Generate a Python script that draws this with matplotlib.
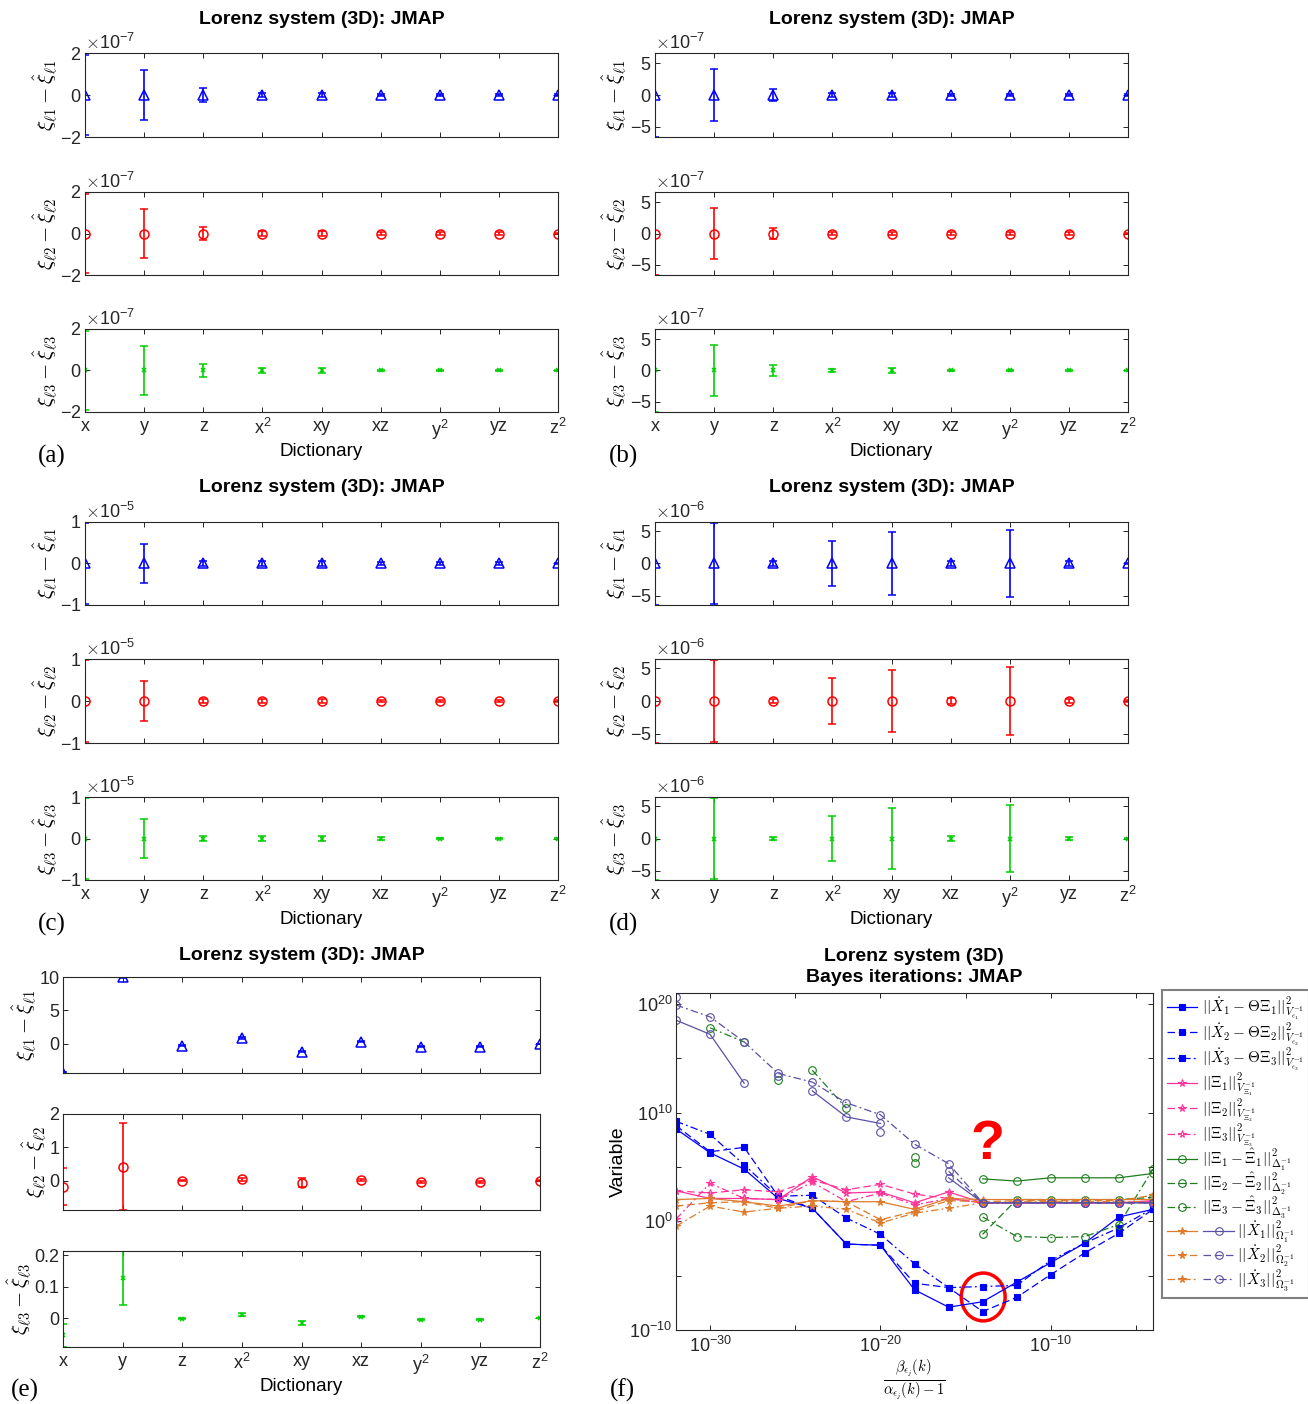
#!/usr/bin/env python3
"""Coefficient errors (panels a-e) and JMAP Bayes iterations (panel f) for the Lorenz system."""

import matplotlib
matplotlib.use("Agg")
import matplotlib.pyplot as plt
import numpy as np
from matplotlib.legend_handler import HandlerTuple
from matplotlib.patches import Ellipse
from matplotlib.ticker import FormatStrFormatter, NullLocator, ScalarFormatter

W, H = 1308, 1404

BLUE = "#0000FF"
RED = "#FF0000"
GREEN = "#00D000"
PINK = "#FF3399"
ORANGE = "#DE7B2C"
DKGREEN = "#1F7F1F"
PURPLE = "#5A50A6"
EDGE = "#262626"

plt.rcParams.update({
    "font.family": ["Liberation Sans", "DejaVu Sans"],
    "mathtext.fontset": "cm",
    "axes.unicode_minus": False,
    "axes.linewidth": 0.8,
    "axes.edgecolor": EDGE,
    "xtick.direction": "in",
    "ytick.direction": "in",
    "xtick.top": True,
    "ytick.right": True,
    "xtick.major.size": 3.5,
    "ytick.major.size": 3.5,
    "xtick.major.width": 0.7,
    "ytick.major.width": 0.7,
    "xtick.labelsize": 13,
    "ytick.labelsize": 13,
    "xtick.major.pad": 4,
    "ytick.major.pad": 2.5,
    "xtick.color": EDGE,
    "ytick.color": EDGE,
})

TERMS = ["x", "y", "z", r"$\mathdefault{x^2}$", "xy", "xz",
         r"$\mathdefault{y^2}$", "yz", r"$\mathdefault{z^2}$"]
ZERO = [0.0] * 9

# (a) error bars, one list per equation
A_ERR_1 = [1.9e-7, 1.2e-7, 0.33e-7, 0.1e-7, 0.1e-7, 0.06e-7, 0.05e-7, 0.05e-7, 0.03e-7]
A_ERR_2 = [1.9e-7, 1.2e-7, 0.33e-7, 0.1e-7, 0.1e-7, 0.05e-7, 0.05e-7, 0.05e-7, 0.03e-7]
A_ERR_3 = [1.9e-7, 1.2e-7, 0.3e-7, 0.1e-7, 0.1e-7, 0.04e-7, 0.04e-7, 0.04e-7, 0.03e-7]
A_LIM = 2e-7

# (b)
B_ERR_1 = [6.6e-7, 4.1e-7, 0.95e-7, 0.3e-7, 0.35e-7, 0.2e-7, 0.2e-7, 0.2e-7, 0.15e-7]
B_ERR_2 = [6.6e-7, 4.1e-7, 0.95e-7, 0.3e-7, 0.3e-7, 0.2e-7, 0.2e-7, 0.2e-7, 0.15e-7]
B_ERR_3 = [6.6e-7, 4.1e-7, 0.95e-7, 0.3e-7, 0.35e-7, 0.15e-7, 0.1e-7, 0.1e-7, 0.1e-7]
B_LIM = 6.6e-7

# (c)
C_ERR_1 = [0.98e-5, 0.48e-5, 0.05e-5, 0.05e-5, 0.05e-5, 0.04e-5, 0.03e-5, 0.03e-5, 0.02e-5]
C_ERR_2 = [0.98e-5, 0.48e-5, 0.05e-5, 0.05e-5, 0.05e-5, 0.03e-5, 0.03e-5, 0.03e-5, 0.02e-5]
C_ERR_3 = [0.98e-5, 0.48e-5, 0.07e-5, 0.07e-5, 0.06e-5, 0.04e-5, 0.02e-5, 0.02e-5, 0.01e-5]
C_LIM = 1e-5

# (d)
D_ERR_1 = [6.4e-6, 6.2e-6, 0.4e-6, 3.4e-6, 4.8e-6, 0.4e-6, 5.2e-6, 0.4e-6, 0.1e-6]
D_ERR_2 = [6.4e-6, 6.2e-6, 0.3e-6, 3.5e-6, 4.7e-6, 0.4e-6, 5.2e-6, 0.3e-6, 0.1e-6]
D_ERR_3 = [6.4e-6, 6.2e-6, 0.3e-6, 3.4e-6, 4.7e-6, 0.4e-6, 5.2e-6, 0.3e-6, 0.1e-6]
D_LIM = 6.4e-6

# (e) values and error bars
E_VAL_1 = [-4.35, 10.0, -0.25, 0.9, -1.15, 0.35, -0.4, -0.4, 0.0]
E_ERR_1 = [0.1, 0.1, 0.1, 0.1, 0.1, 0.1, 0.1, 0.1, 0.05]
E_VAL_2 = [-0.18, 0.42, 0.0, 0.04, -0.06, 0.02, -0.03, -0.03, 0.0]
E_ERR_2 = [0.56, 1.3, 0.02, 0.05, 0.13, 0.03, 0.03, 0.03, 0.01]
E_VAL_3 = [-0.055, 0.128, -0.002, 0.011, -0.016, 0.004, -0.005, -0.005, 0.0]
E_ERR_3 = [0.037, 0.085, 0.002, 0.004, 0.006, 0.002, 0.002, 0.002, 0.001]

# (f) hyperparameter ratio and log10 of each tracked quantity
BETA_RATIO = [1e-32, 1e-30, 1e-28, 1e-26, 1e-24, 1e-22, 1e-20, 1e-18,
              1e-16, 1e-14, 1e-12, 1e-10, 1e-8, 1e-6, 1e-4]
nan = np.nan
RES_1 = [8.5, 6.3, 4.8, 2.1, 1.2, -2.1, -2.2, -6.3, -7.9, -7.4, -5.6, -3.8, -2.0, 0.4, 1.1]
RES_2 = [8.8, 6.4, 6.8, 2.3, 1.2, -2.1, -2.2, -5.7, -6.1, -8.3, -7.0, -4.9, -2.9, -1.1, 1.1]
RES_3 = [9.2, 8.0, 5.2, 2.3, 2.4, 0.3, -1.2, -3.9, -6.1, -6.0, -5.9, -3.6, -2.0, -0.6, 1.2]
XI_1 = [2.8, 2.1, 2.1, 2.0, 4.1, 2.6, 2.7, 1.7, 2.7, 1.7, 1.7, 1.7, 1.7, 1.7, 1.9]
XI_2 = [2.8, 2.6, 2.9, 2.7, 3.8, 2.9, 3.4, 2.5, 2.1, 1.7, 1.7, 1.7, 1.7, 1.7, 1.8]
XI_3 = [0.2, 3.5, 2.1, 2.0, 3.6, 1.8, 2.6, 1.5, 2.1, 1.7, 1.7, 1.7, 1.7, 1.7, 1.7]
DXI_1 = [nan] * 9 + [3.9, 3.7, 4.0, 4.0, 4.0, 4.4]
DXI_2 = [nan, nan, nan, 13.0, nan, nan, nan, 5.4, nan, -1.2, 2.0, 2.0, 2.0, 2.0, 2.2]
DXI_3 = [nan, 17.8, 16.5, nan, 13.9, 10.4, nan, 5.9, nan, 0.4, -1.4, -1.5, -1.4, -0.3, 4.8]
XS_1 = [2.0, 2.1, 1.8, 1.4, 1.9, 1.8, 1.8, 1.1, 2.1, 2.0, 2.0, 2.0, 2.0, 2.0, 2.0]
XS_2 = [1.4, 1.7, 1.8, 1.2, 1.9, 1.8, 0.15, 0.9, 1.9, 1.8, 1.9, 1.9, 1.9, 1.9, 2.4]
XS_3 = [-0.45, 1.4, 0.85, 1.2, 1.4, 1.1, -0.15, 0.75, 1.2, 1.7, 1.8, 1.8, 1.8, 1.8, 1.8]
XC_1 = [18.5, 17.2, 12.7, nan, 12.0, 9.6, 9.0, nan, 4.0, 1.7, 1.7, 1.7, 1.7, 1.7, 1.7]
XC_2 = [20.6, nan, nan, 13.4, nan, nan, 8.2, nan, 4.6, 1.7, 1.7, 1.7, 1.7, 1.7, 1.7]
XC_3 = [19.9, 18.8, 16.5, 13.6, 12.8, 10.9, 9.8, 7.1, 5.3, 1.7, 1.7, 1.7, 1.7, 1.7, 1.7]

YLABELS = [r"$\xi_{\ell 1} - \hat{\xi}_{\ell 1}$",
           r"$\xi_{\ell 2} - \hat{\xi}_{\ell 2}$",
           r"$\xi_{\ell 3} - \hat{\xi}_{\ell 3}$"]
ROW_STYLE = [(BLUE, "^", 7), (RED, "o", 6.5), (GREEN, "x", 3.5)]
LINESTYLES = ["-", (0, (6, 3)), (0, (6, 2.5, 1.5, 2.5))]
TITLE = "Lorenz system (3D): JMAP"

fig = plt.figure(figsize=(W / 100, H / 100), dpi=100)


def frac(left, right, top, bottom):
    return [left / W, 1 - bottom / H, (right - left) / W, (bottom - top) / H]


def coef_stack(cols, rows, vals, errs, ylims, yticks, sci, title_y, label, label_xy):
    xpos = np.arange(1, 10)
    for k, (top, bot) in enumerate(rows):
        ax = fig.add_axes(frac(cols[0], cols[1], top, bot))
        color, marker, ms = ROW_STYLE[k]
        ax.errorbar(xpos, vals[k], yerr=errs[k], fmt=marker, color=color, mfc="none",
                    ms=ms, mew=1.1, elinewidth=1.2, capsize=3.2, capthick=1.2)
        ax.set_xlim(1, 9)
        ax.set_ylim(*ylims[k])
        ax.set_xticks(xpos)
        ax.set_yticks(yticks[k])
        if sci:
            fmt = ScalarFormatter(useMathText=True)
            ax.yaxis.set_major_formatter(fmt)
            ax.yaxis.get_offset_text().set_fontsize(13)
        else:
            ax.yaxis.set_major_formatter(FormatStrFormatter("%g"))
        ax.set_ylabel(YLABELS[k], fontsize=15, labelpad=1)
        if k == 2:
            ax.set_xticklabels(TERMS)
            ax.set_xlabel("Dictionary", fontsize=13.5, labelpad=1)
        else:
            ax.set_xticklabels([])
    fig.text((cols[0] + cols[1]) / 2 / W, 1 - title_y / H, TITLE, fontsize=14,
             fontweight="bold", ha="center", va="center")
    fig.text(label_xy[0] / W, 1 - label_xy[1] / H, label, fontsize=18,
             family="Liberation Serif", ha="center", va="center")


ROWS_TOP = [(53, 137), (192, 275), (329, 412)]
ROWS_MID = [(522, 605), (659, 743), (797, 880)]
ROWS_E = [(977, 1073), (1114, 1210), (1251, 1347)]

for cols, rows, errs, lim, tick, ty, lab, lxy in [
    ((85, 558), ROWS_TOP, [A_ERR_1, A_ERR_2, A_ERR_3], A_LIM, 2e-7, 20, "(a)", (52, 456)),
    ((655, 1128), ROWS_TOP, [B_ERR_1, B_ERR_2, B_ERR_3], B_LIM, 5e-7, 20, "(b)", (623, 456)),
    ((85, 558), ROWS_MID, [C_ERR_1, C_ERR_2, C_ERR_3], C_LIM, 1e-5, 488, "(c)", (52, 924)),
    ((655, 1128), ROWS_MID, [D_ERR_1, D_ERR_2, D_ERR_3], D_LIM, 5e-6, 488, "(d)", (623, 924)),
]:
    coef_stack(cols, rows, [ZERO] * 3, errs, [(-lim, lim)] * 3,
               [[-tick, 0, tick]] * 3, True, ty, lab, lxy)

coef_stack((63, 540), ROWS_E, [E_VAL_1, E_VAL_2, E_VAL_3], [E_ERR_1, E_ERR_2, E_ERR_3],
           [(-4.35, 10.0), (-0.88, 2.0), (-0.092, 0.213)],
           [[0, 5, 10], [0, 1, 2], [0, 0.1, 0.2]], False, 955, "(e)", (25, 1390))

# (f) Bayes iterations
ax = fig.add_axes(frac(676, 1153, 993, 1330))
ax.set_xscale("log")
ax.set_yscale("log")


def trace(series, color, marker, k, mfc):
    line, = ax.plot(BETA_RATIO, np.power(10.0, series), color=color, ls=LINESTYLES[k],
                    marker=marker, ms=5.5 if marker != "s" else 4, mfc=mfc, mec=color,
                    mew=0.8, lw=0.9)
    return line


res = [trace(s, BLUE, "s", k, BLUE) for k, s in enumerate([RES_1, RES_2, RES_3])]
xi = [trace(s, PINK, "*", k, "none") for k, s in enumerate([XI_1, XI_2, XI_3])]
dxi = [trace(s, DKGREEN, "o", k, "none") for k, s in enumerate([DXI_1, DXI_2, DXI_3])]
xs = [trace(s, ORANGE, "*", k, ORANGE) for k, s in enumerate([XS_1, XS_2, XS_3])]
xc = [trace(s, PURPLE, "o", k, "none") for k, s in enumerate([XC_1, XC_2, XC_3])]

ax.set_xlim(1e-32, 1e-4)
ax.set_ylim(1e-10, 1e21)
ax.set_xticks([1e-30, 1e-25, 1e-20, 1e-15, 1e-10, 1e-5])
ax.set_xticklabels([r"$\mathdefault{10^{-30}}$", "", r"$\mathdefault{10^{-20}}$", "",
                    r"$\mathdefault{10^{-10}}$", ""])
ax.set_yticks([1e-10, 1e-5, 1e0, 1e5, 1e10, 1e15, 1e20])
ax.set_yticklabels([r"$\mathdefault{10^{-10}}$", "", r"$\mathdefault{10^{0}}$", "",
                    r"$\mathdefault{10^{10}}$", "", r"$\mathdefault{10^{20}}$"])
ax.xaxis.set_minor_locator(NullLocator())
ax.yaxis.set_minor_locator(NullLocator())
ax.set_ylabel("Variable", fontsize=14, labelpad=2)
ax.set_xlabel(r"$\frac{\beta_{\epsilon_j}(k)}{\alpha_{\epsilon_j}(k)-1}$", fontsize=15,
              labelpad=1)
fig.text(914 / W, 1 - 967 / H, "Lorenz system (3D)\nBayes iterations: JMAP", fontsize=14,
         fontweight="bold", ha="center", va="center", linespacing=1.35)
fig.text(622 / W, 1 - 1390 / H, "(f)", fontsize=18, family="Liberation Serif",
         ha="center", va="center")

ax.add_patch(Ellipse((0.644, 0.098), 0.092, 0.142, transform=ax.transAxes,
                     fill=False, ec=RED, lw=2.5))
ax.text(0.652, 0.549, "?", transform=ax.transAxes, color=RED, fontsize=40,
        fontweight="bold", ha="center", va="center")


class PairHandler(HandlerTuple):
    """Draw two legend handles side by side, the second one after the first."""

    def create_artists(self, legend, orig_handle, xdescent, ydescent, width, height,
                       fontsize, trans):
        hmap = legend.get_legend_handler_map()
        gap = 0.4 * fontsize
        artists = []
        for i, h in enumerate(orig_handle):
            hd = legend.get_legend_handler(hmap, h)
            artists.extend(hd.create_artists(legend, h, xdescent - i * (width + gap),
                                             ydescent, width, height, fontsize, trans))
        return artists


handles = res + xi + dxi + [(xs[k], xc[k]) for k in range(3)]
labels = [
    r"$||\dot{X}_1 - \Theta\Xi_1||^2_{V_{\epsilon_1}^{-1}}$",
    r"$||\dot{X}_2 - \Theta\Xi_2||^2_{V_{\epsilon_2}^{-1}}$",
    r"$||\dot{X}_3 - \Theta\Xi_3||^2_{V_{\epsilon_3}^{-1}}$",
    r"$||\Xi_1||^2_{V_{\Xi_1}^{-1}}$",
    r"$||\Xi_2||^2_{V_{\Xi_2}^{-1}}$",
    r"$||\Xi_3||^2_{V_{\Xi_3}^{-1}}$",
    r"$||\Xi_1 - \hat{\Xi}_1||^2_{\Delta_1^{-1}}$",
    r"$||\Xi_2 - \hat{\Xi}_2||^2_{\Delta_2^{-1}}$",
    r"$||\Xi_3 - \hat{\Xi}_3||^2_{\Delta_3^{-1}}$",
    r"$\qquad\ \ ||\dot{X}_1||^2_{\Omega_1^{-1}}$",
    r"$\qquad\ \ ||\dot{X}_2||^2_{\Omega_2^{-1}}$",
    r"$\qquad\ \ ||\dot{X}_3||^2_{\Omega_3^{-1}}$",
]
leg = ax.legend(handles, labels, loc="upper left", bbox_to_anchor=(1162 / W, 1 - 990 / H),
                bbox_transform=fig.transFigure, borderaxespad=0, fontsize=11,
                handlelength=2.0, handletextpad=0.35, labelspacing=-0.15,
                borderpad=0.3, fancybox=False, framealpha=1, edgecolor="#808080",
                handler_map={tuple: PairHandler()})
leg.get_frame().set_linewidth(1.5)

fig.savefig("out.png", dpi=100)
